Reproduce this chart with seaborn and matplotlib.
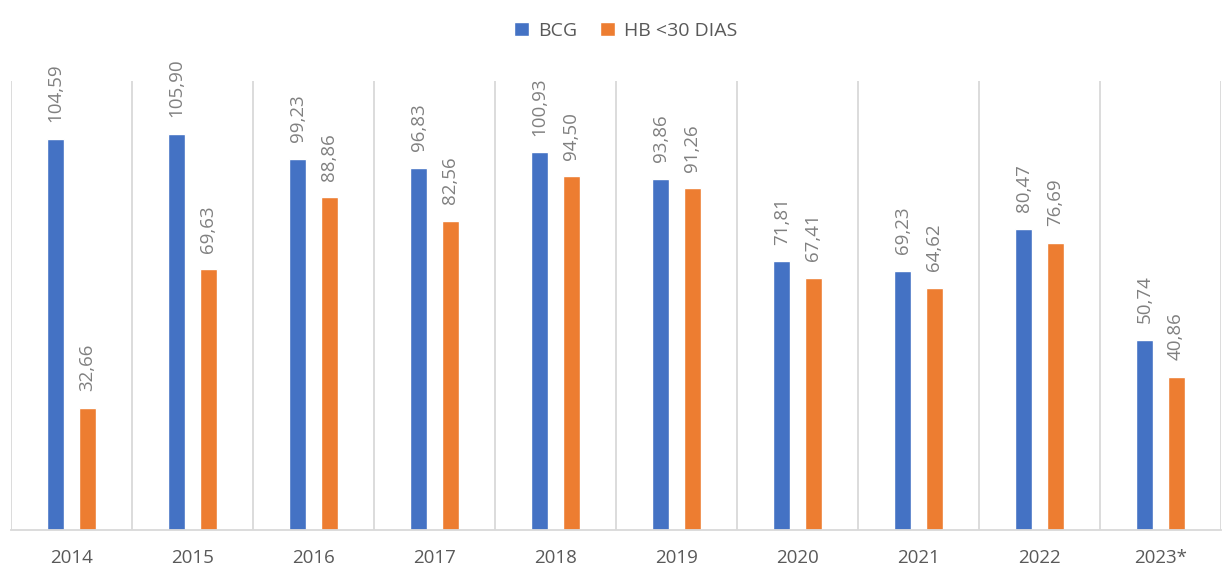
import matplotlib
matplotlib.use("Agg")
import matplotlib.pyplot as plt
import seaborn as sns
import pandas as pd
from matplotlib.patches import Patch

years = ["2014", "2015", "2016", "2017", "2018", "2019", "2020", "2021", "2022", "2023*"]
bcg = [104.59, 105.90, 99.23, 96.83, 100.93, 93.86, 71.81, 69.23, 80.47, 50.74]
hb = [32.66, 69.63, 88.86, 82.56, 94.50, 91.26, 67.41, 64.62, 76.69, 40.86]
series = ["BCG", "HB <30 DIAS"]
colors = ["#4472C4", "#ED7D31"]

df = pd.DataFrame({
    "year": years * 2,
    "value": bcg + hb,
    "serie": [series[0]] * len(years) + [series[1]] * len(years),
})

sns.set_theme(style="white")
plt.rcParams["font.family"] = ["Open Sans", "DejaVu Sans"]

fig = plt.figure(figsize=(12.22, 5.66), dpi=100)
ax = fig.add_axes([0.009, 0.064, 0.990, 0.793])

sns.barplot(data=df, x="year", y="value", hue="serie", order=years,
            hue_order=series, palette=colors, width=0.52, gap=0.46,
            saturation=1, legend=False, ax=ax)

ax.set_ylim(0, 120)
ax.set_xlim(-0.5, len(years) - 0.5)
for i in range(len(years) + 1):
    ax.axvline(i - 0.5, color="#d9d9d9", lw=1.3, zorder=0)

for cont in ax.containers:
    labels = [f"{b.get_height():.2f}".replace(".", ",") for b in cont]
    ax.bar_label(cont, labels=labels, rotation=90, padding=12,
                 color="#808080", fontsize=13.5)

ax.set_yticks([])
ax.set_xlabel("")
ax.set_ylabel("")
for s in ["top", "left", "right"]:
    ax.spines[s].set_visible(False)
ax.spines["bottom"].set_color("#d9d9d9")
ax.spines["bottom"].set_linewidth(1.3)
ax.tick_params(axis="x", length=0, pad=14, labelsize=13.5, labelcolor="#595959")

handles = [Patch(facecolor=c, label=s) for c, s in zip(colors, series)]
fig.legend(handles=handles, loc="center", bbox_to_anchor=(0.512, 0.945),
           ncol=2, frameon=False, fontsize=14, handlelength=0.75,
           handleheight=0.75, columnspacing=1.2, handletextpad=0.45,
           labelcolor="#595959")

fig.savefig("out.png", dpi=100)
